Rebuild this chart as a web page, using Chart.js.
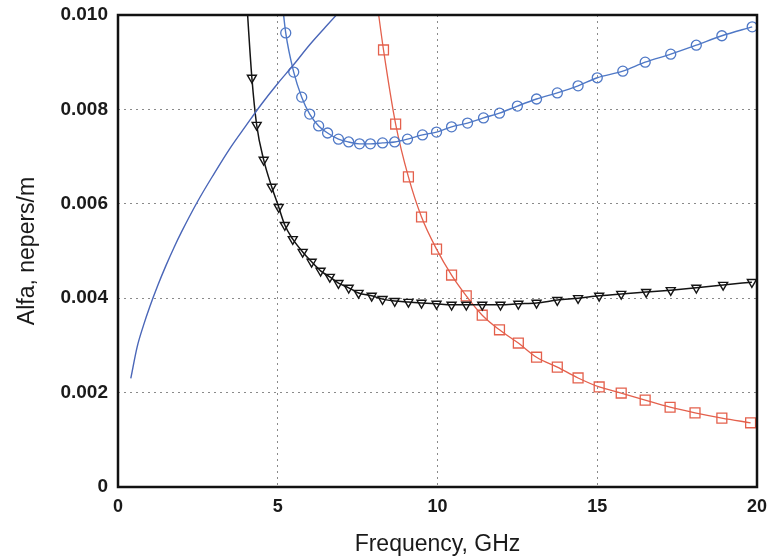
<!DOCTYPE html>
<html>
<head>
<meta charset="utf-8">
<script src="https://cdn.jsdelivr.net/npm/chart.js@4/dist/chart.umd.min.js"></script>
<style>
  html, body { margin: 0; padding: 0; background: #ffffff; }
  #wrap { width: 768px; height: 558px; position: relative; }
</style>
</head>
<body>
<div id="wrap"><canvas id="c" width="768" height="558"></canvas></div>
<script>
// Plain blue curve (no markers)
const curveFreq  = [0.4, 0.6, 0.8, 1.0, 1.25, 1.5, 1.75, 2.0, 2.5, 3.0, 3.5, 4.0, 4.5, 5.0, 5.5, 6.0, 6.5, 7.0];
const curveAlfa  = [0.0023, 0.00297, 0.00343, 0.00383, 0.00428, 0.00469, 0.00507, 0.00542, 0.00606, 0.00663, 0.00717, 0.00765, 0.00812, 0.00855, 0.00895, 0.00937, 0.00975, 0.01012];

// Blue circles
const circleFreq = [5.12, 5.25, 5.5, 5.75, 6.0, 6.28, 6.56, 6.9, 7.22, 7.56, 7.9, 8.28, 8.66, 9.06, 9.53, 9.97, 10.44, 10.94, 11.44, 11.94, 12.5, 13.1, 13.75, 14.4, 15.0, 15.8, 16.5, 17.3, 18.1, 18.9, 19.85];
const circleAlfa = [0.0104, 0.00962, 0.00879, 0.00826, 0.0079, 0.00765, 0.0075, 0.00737, 0.00731, 0.00727, 0.00727, 0.00729, 0.00731, 0.00737, 0.00746, 0.00752, 0.00763, 0.00771, 0.00782, 0.00792, 0.00807, 0.00822, 0.00835, 0.0085, 0.00867, 0.00881, 0.009, 0.00917, 0.00936, 0.00956, 0.00975];

// Black triangles
const triFreq = [4.0, 4.19, 4.34, 4.56, 4.81, 5.03, 5.22, 5.47, 5.78, 6.06, 6.34, 6.63, 6.9, 7.22, 7.53, 7.94, 8.28, 8.66, 9.09, 9.5, 9.97, 10.44, 10.9, 11.4, 11.97, 12.53, 13.1, 13.75, 14.4, 15.06, 15.75, 16.53, 17.3, 18.1, 18.94, 19.84];
const triAlfa = [0.0106, 0.00867, 0.00767, 0.00693, 0.00636, 0.00593, 0.00555, 0.00525, 0.00498, 0.00477, 0.00458, 0.00445, 0.00432, 0.00422, 0.00411, 0.00405, 0.00398, 0.00394, 0.00392, 0.0039, 0.00388, 0.00386, 0.00386, 0.00386, 0.00386, 0.00388, 0.0039, 0.00396, 0.004, 0.00405, 0.00409, 0.00413, 0.00417, 0.00422, 0.00428, 0.00434];

// Red squares
const sqFreq = [8.1, 8.31, 8.69, 9.09, 9.5, 9.97, 10.44, 10.9, 11.4, 11.94, 12.53, 13.1, 13.75, 14.4, 15.06, 15.75, 16.5, 17.28, 18.06, 18.9, 19.8];
const sqAlfa = [0.0103, 0.00926, 0.00769, 0.00657, 0.00572, 0.00504, 0.00449, 0.00405, 0.00364, 0.00333, 0.00305, 0.00275, 0.00254, 0.00231, 0.00212, 0.00199, 0.00184, 0.00169, 0.00157, 0.00146, 0.00136];

const xTicks = [0, 5, 10, 15, 20];
const yTicks = [0, 0.002, 0.004, 0.006, 0.008, 0.010];

const Y_MAX = 0.010;
function pts(xs, ys) { return xs.map((x, i) => ({ x: x, y: ys[i] })); }
function radiusFn(r) { return ctx => (ctx.raw && ctx.raw.y > Y_MAX) ? 0 : r; }

const BLUE_LINE = '#4a66b8';
const BLUE = '#4f78c6';
const RED = '#e4604c';
const BLACK = '#141414';

const framePlugin = {
  id: 'frame',
  afterDatasetsDraw(chart) {
    const a = chart.chartArea, ctx = chart.ctx;
    ctx.save();
    ctx.strokeStyle = '#111';
    ctx.lineWidth = 2.5;
    ctx.strokeRect(a.left, a.top, a.right - a.left, a.bottom - a.top);
    ctx.restore();
  }
};

const font = 'Liberation Sans, Arial, sans-serif';

new Chart(document.getElementById('c'), {
  type: 'line',
  data: {
    datasets: [
      {
        data: pts(curveFreq, curveAlfa),
        borderColor: BLUE_LINE, borderWidth: 1.4,
        pointRadius: 0, cubicInterpolationMode: 'monotone', fill: false
      },
      {
        data: pts(circleFreq, circleAlfa),
        borderColor: BLUE, borderWidth: 1.4,
        pointStyle: 'circle', pointRadius: radiusFn(5),
        pointBorderColor: BLUE, pointBackgroundColor: 'rgba(0,0,0,0)', pointBorderWidth: 1.3,
        cubicInterpolationMode: 'monotone', fill: false
      },
      {
        data: pts(triFreq, triAlfa),
        borderColor: BLACK, borderWidth: 1.5,
        pointStyle: 'triangle', pointRotation: 180, pointRadius: radiusFn(5.2),
        pointBorderColor: BLACK, pointBackgroundColor: 'rgba(0,0,0,0)', pointBorderWidth: 1.4,
        cubicInterpolationMode: 'monotone', fill: false
      },
      {
        data: pts(sqFreq, sqAlfa),
        borderColor: RED, borderWidth: 1.3,
        pointStyle: 'rect', pointRadius: radiusFn(7),
        pointBorderColor: RED, pointBackgroundColor: 'rgba(0,0,0,0)', pointBorderWidth: 1.3,
        cubicInterpolationMode: 'monotone', fill: false
      }
    ]
  },
  options: {
    responsive: false,
    animation: false,
    events: [],
    layout: { padding: { top: 15, right: 11, left: 0, bottom: 0 } },
    plugins: { legend: { display: false }, tooltip: { enabled: false } },
    scales: {
      x: {
        type: 'linear', min: 0, max: 20,
        afterBuildTicks: s => { s.ticks = xTicks.map(v => ({ value: v })); },
        afterFit: s => { s.height = 71; s.paddingLeft = 0; s.paddingRight = 0; },
        ticks: {
          padding: 9, color: '#1a1a1a', maxRotation: 0,
          font: { family: font, size: 18, weight: 'bold' },
          callback: v => String(v)
        },
        grid: {
          drawTicks: false,
          color: ctx => (ctx.tick && (ctx.tick.value === 0 || ctx.tick.value === 20)) ? 'rgba(0,0,0,0)' : '#8a8a8a',
          lineWidth: 1
        },
        border: { display: false, dash: [2, 4] },
        title: {
          display: true, text: 'Frequency, GHz', color: '#1a1a1a',
          font: { family: font, size: 23 },
          padding: { top: 2, bottom: 0 }
        }
      },
      y: {
        type: 'linear', min: 0, max: Y_MAX,
        afterBuildTicks: s => { s.ticks = yTicks.map(v => ({ value: v })); },
        afterFit: s => { s.width = 118; s.paddingTop = 0; s.paddingBottom = 0; },
        ticks: {
          padding: 10, color: '#1a1a1a',
          font: { family: font, size: 19, weight: 'bold' },
          callback: v => (Math.abs(v) < 1e-12 ? '0' : Number(v).toFixed(3))
        },
        grid: {
          drawTicks: false,
          color: ctx => (ctx.tick && (Math.abs(ctx.tick.value) < 1e-12 || Math.abs(ctx.tick.value - Y_MAX) < 1e-12)) ? 'rgba(0,0,0,0)' : '#8a8a8a',
          lineWidth: 1
        },
        border: { display: false, dash: [2, 4] },
        title: {
          display: true, text: 'Alfa, nepers/m', color: '#1a1a1a',
          font: { family: font, size: 23 },
          padding: { top: 14, bottom: 0 }
        }
      }
    }
  },
  plugins: [framePlugin]
});
</script>
</body>
</html>
